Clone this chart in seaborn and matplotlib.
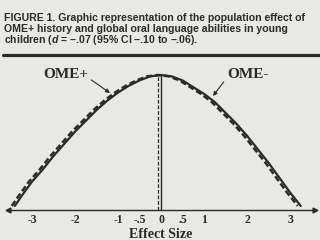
import matplotlib
matplotlib.use("Agg")
import matplotlib.pyplot as plt
from matplotlib.ticker import MultipleLocator, FixedLocator
import seaborn as sns
import pandas as pd

# ---- data ----
ome_minus_x = [-3.40, -3.25, -3.00, -2.75, -2.50, -2.25, -2.00, -1.75, -1.50, -1.25,
               -1.00, -0.75, -0.50, -0.25, 0.00, 0.25, 0.50, 0.75, 1.00, 1.25,
               1.50, 1.75, 2.00, 2.25, 2.50, 2.75, 3.00, 3.25]
ome_minus_y = [0.03, 0.10, 0.21, 0.30, 0.40, 0.49, 0.58, 0.66, 0.74, 0.81,
               0.87, 0.92, 0.96, 0.99, 1.00, 0.99, 0.96, 0.91, 0.86, 0.80,
               0.72, 0.64, 0.55, 0.45, 0.35, 0.24, 0.13, 0.03]
ome_plus_x = [-3.47, -3.32, -3.07, -2.82, -2.57, -2.32, -2.07, -1.82, -1.57, -1.32,
              -1.07, -0.82, -0.57, -0.32, -0.07, 0.18, 0.43, 0.68, 0.93, 1.18,
              1.43, 1.68, 1.93, 2.18, 2.43, 2.68, 2.93, 3.18]
ome_plus_y = [0.03, 0.10, 0.21, 0.30, 0.40, 0.49, 0.58, 0.66, 0.74, 0.81,
              0.87, 0.92, 0.96, 0.99, 1.00, 0.99, 0.96, 0.91, 0.86, 0.80,
              0.72, 0.64, 0.55, 0.45, 0.35, 0.24, 0.13, 0.03]
ome_minus_mean = 0.0
ome_plus_mean = -0.07
peak = 1.0
tick_values = [-3, -2, -1, -0.5, 0, 0.5, 1, 2, 3]
tick_labels = ['-3', '-2', '-1', '-.5', '0', '.5', '1', '2', '3']
series_labels = ['OME+', 'OME-']
x_title = 'Effect Size'
title_lines = ['FIGURE 1. Graphic representation of the population effect of',
               'OME+ history and global oral language abilities in young',
               'children ($d$ = \u2013.07 (95% CI \u2013.10 to \u2013.06).']

# ---- style ----
sns.set_style("white")
BG = '#e8e8e4'
INK = '#2a2a2a'
plt.rcParams['font.family'] = ['Liberation Serif', 'DejaVu Serif']
plt.rcParams['mathtext.fontset'] = 'custom'
plt.rcParams['mathtext.it'] = 'Liberation Sans:italic:bold'
plt.rcParams['mathtext.rm'] = 'Liberation Sans:bold'

W, H = 320, 240
fig = plt.figure(figsize=(3.2, 2.4), dpi=100, facecolor=BG)

# axes spanning the arrowed axis line (px 8..315)
ax = fig.add_axes([8 / W, 0, 307 / W, 1])
ax.set_facecolor(BG)

def px2u(px):
    return (px - 161) / 43.0

def py2h(py):
    return (210 - py) / 135.0

ax.set_xlim(px2u(8), px2u(315))
ax.set_ylim(py2h(240), py2h(0))

df_minus = pd.DataFrame({'x': ome_minus_x, 'y': ome_minus_y})
df_plus = pd.DataFrame({'x': ome_plus_x, 'y': ome_plus_y})
sns.lineplot(data=df_minus, x='x', y='y', ax=ax, color=INK, lw=1.6, sort=False)
sns.lineplot(data=df_plus, x='x', y='y', ax=ax, color=INK, lw=1.8, sort=False,
             dashes=False)
ax.lines[-1].set_dashes((2.4, 1.2))

ax.plot([ome_minus_mean, ome_minus_mean], [0, peak], color=INK, lw=1.0)
ax.plot([ome_plus_mean, ome_plus_mean], [0, peak], color=INK, lw=0.9,
        dashes=(3, 1.5))

# spines / axis
for s in ['top', 'right', 'left']:
    ax.spines[s].set_visible(False)
ax.spines['bottom'].set_position(('data', 0))
ax.spines['bottom'].set_color(INK)
ax.spines['bottom'].set_linewidth(1.0)
ax.set_yticks([])
ax.xaxis.set_major_locator(FixedLocator(tick_values))
ax.set_xticklabels(tick_labels, fontweight='bold', fontsize=8.5, color=INK)
ax.xaxis.set_minor_locator(MultipleLocator(1 / 6))
ax.tick_params(axis='x', which='both', direction='inout', length=3.5,
               width=0.8, color=INK, pad=1.2)
ax.set_xlabel('')
ax.set_ylabel('')
ax.plot(1, 0, '>', color=INK, ms=3.5, transform=ax.get_yaxis_transform(),
        clip_on=False)
ax.plot(0, 0, '<', color=INK, ms=3.5, transform=ax.get_yaxis_transform(),
        clip_on=False)

# x title
fig.text(161 / W, 1 - 238 / H, x_title, ha='center', va='baseline',
         fontsize=10, fontweight='bold', color=INK, family='Liberation Serif')

# series labels with arrows
ax.annotate(series_labels[0], xy=(px2u(110), py2h(93)),
            xytext=(px2u(43), py2h(75)), ha='left', va='center',
            fontsize=11, fontweight='bold', color=INK,
            arrowprops=dict(arrowstyle='-|>', color=INK, lw=0.8,
                            mutation_scale=6, shrinkA=0, shrinkB=0,
                            relpos=(1, 0.3)))
ax.annotate(series_labels[1], xy=(px2u(213), py2h(96)),
            xytext=(px2u(227), py2h(75)), ha='left', va='center',
            fontsize=11, fontweight='bold', color=INK,
            arrowprops=dict(arrowstyle='-|>', color=INK, lw=0.8,
                            mutation_scale=6, shrinkA=0, shrinkB=0,
                            relpos=(0, 0.3)))

# title block
for i, line in enumerate(title_lines):
    fig.text(4 / W, 1 - (21 + 11 * i) / H, line, ha='left', va='baseline',
             fontsize=7.6, fontweight='bold', color=INK,
             family='Liberation Sans')

# heavy rule
fig.add_artist(plt.Line2D([3 / W, 1], [1 - 55 / H, 1 - 55 / H], color=INK,
                          lw=2.3, transform=fig.transFigure))

fig.savefig('out.png', dpi=100, facecolor=BG)
